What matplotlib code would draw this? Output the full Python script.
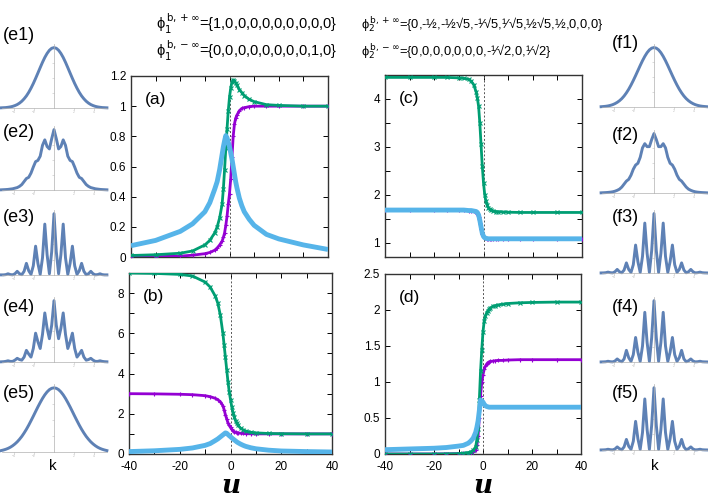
import numpy as np
import matplotlib
matplotlib.use("Agg")
import matplotlib.pyplot as plt  # noqa: E402
from matplotlib.ticker import MultipleLocator, FuncFormatter  # noqa: E402

W, H = 708, 501
PURPLE, GREEN, BLUE, MMA = "#9400d3", "#009e73", "#56b4e9", "#5e81b5"

plt.rcParams.update({
    "font.family": ["Liberation Sans", "DejaVu Sans"], "font.size": 8.5,
    "mathtext.fontset": "dejavusans", "axes.linewidth": 1.0,
    "axes.edgecolor": "#333333", "xtick.direction": "in", "ytick.direction": "in",
})

# ---- main panels: u samples and curve values ----
u = [-40, -30, -20, -15, -10, -8, -6, -5, -4, -3, -2.5, -2, -1.5, -1, -0.5, 0,
     0.5, 1, 1.5, 2, 2.5, 3, 4, 5, 6, 8, 10, 15, 20, 30, 40]

a_purple = [0.0, 0.002, 0.006, 0.012, 0.022, 0.03, 0.045, 0.06, 0.08, 0.105, 0.13, 0.16,
            0.21, 0.27, 0.35, 0.42, 0.52, 0.66, 0.8, 0.88, 0.92, 0.94, 0.97, 0.985, 0.99,
            0.997, 1.0, 1.0, 1.0, 1.0, 1.0]
a_green = [0.01, 0.015, 0.025, 0.04, 0.08, 0.11, 0.16, 0.2, 0.26, 0.35, 0.45, 0.58, 0.72,
           0.85, 0.97, 1.06, 1.12, 1.16, 1.175, 1.17, 1.155, 1.14, 1.11, 1.09, 1.07, 1.045,
           1.03, 1.01, 1.005, 1.0, 1.0]
a_blue = [0.075, 0.11, 0.17, 0.22, 0.30, 0.36, 0.45, 0.5, 0.58, 0.68, 0.73, 0.77, 0.805,
          0.79, 0.76, 0.73, 0.69, 0.65, 0.6, 0.55, 0.5, 0.46, 0.39, 0.34, 0.3, 0.25, 0.21,
          0.15, 0.12, 0.08, 0.05]

b_purple = [3.0, 2.99, 2.97, 2.95, 2.9, 2.85, 2.77, 2.7, 2.6, 2.4, 2.2, 1.95, 1.75, 1.55,
            1.42, 1.32, 1.22, 1.15, 1.11, 1.08, 1.06, 1.05, 1.03, 1.02, 1.01, 1.005, 1.0,
            1.0, 1.0, 1.0, 1.0]
b_green = [9.0, 8.98, 8.93, 8.85, 8.55, 8.3, 7.85, 7.5, 6.9, 6.0, 5.4, 4.8, 4.2, 3.6, 3.1,
           2.7, 2.35, 2.05, 1.83, 1.65, 1.52, 1.42, 1.28, 1.2, 1.14, 1.08, 1.05, 1.02, 1.01,
           1.0, 1.0]
b_blue = [0.12, 0.16, 0.23, 0.3, 0.43, 0.52, 0.67, 0.75, 0.85, 0.95, 1.0, 1.05, 1.03, 0.97,
          0.91, 0.86, 0.8, 0.75, 0.7, 0.65, 0.6, 0.56, 0.49, 0.43, 0.38, 0.31, 0.26, 0.19,
          0.15, 0.12, 0.1]

c_purple = [1.68, 1.68, 1.68, 1.68, 1.68, 1.68, 1.67, 1.67, 1.66, 1.64, 1.6, 1.53, 1.42,
            1.28, 1.17, 1.12, 1.1, 1.09, 1.085, 1.08, 1.08, 1.08, 1.08, 1.08, 1.08, 1.08,
            1.08, 1.08, 1.08, 1.08, 1.08]
c_green = [4.45, 4.45, 4.45, 4.45, 4.44, 4.43, 4.41, 4.37, 4.3, 4.15, 4.02, 3.85, 3.5, 3.05,
           2.6, 2.25, 2.0, 1.86, 1.78, 1.73, 1.7, 1.68, 1.66, 1.65, 1.645, 1.64, 1.635,
           1.63, 1.63, 1.63, 1.63]
c_blue = [1.68, 1.68, 1.68, 1.68, 1.68, 1.68, 1.67, 1.67, 1.66, 1.65, 1.63, 1.58, 1.47,
          1.33, 1.2, 1.13, 1.1, 1.09, 1.085, 1.08, 1.08, 1.08, 1.08, 1.08, 1.08, 1.08, 1.08,
          1.08, 1.08, 1.08, 1.08]

d_purple = [0.0, 0.0, 0.0, 0.002, 0.005, 0.008, 0.012, 0.02, 0.03, 0.05, 0.12, 0.25, 0.5,
            0.81, 1.0, 1.1, 1.18, 1.22, 1.25, 1.27, 1.28, 1.285, 1.29, 1.295, 1.3, 1.3,
            1.305, 1.31, 1.31, 1.31, 1.31]
d_green = [0.0, 0.0, 0.0, 0.002, 0.005, 0.01, 0.02, 0.03, 0.05, 0.1, 0.2, 0.35, 0.75, 1.15,
           1.45, 1.7, 1.85, 1.92, 1.96, 1.99, 2.01, 2.03, 2.05, 2.06, 2.07, 2.08, 2.09, 2.1,
           2.105, 2.11, 2.11]
d_blue = [0.06, 0.07, 0.08, 0.09, 0.11, 0.12, 0.15, 0.18, 0.22, 0.3, 0.37, 0.46, 0.6, 0.75,
          0.74, 0.72, 0.69, 0.67, 0.66, 0.655, 0.65, 0.65, 0.65, 0.65, 0.65, 0.65, 0.65,
          0.65, 0.65, 0.65, 0.65]

# ---- side panels: |psi(k)|^2 samples on k = 0, 0.23, 0.46, ... (mirrored to k < 0) ----
k_step = 0.23
e1 = [1.0, 0.989, 0.956, 0.904, 0.837, 0.757, 0.669, 0.579, 0.49, 0.405, 0.328, 0.259,
      0.2, 0.152, 0.112, 0.081, 0.057, 0.04, 0.027, 0.018, 0.012, 0.007, 0.005, 0.003]
e2 = [1.0, 0.85, 0.68, 0.72, 0.83, 0.74, 0.56, 0.49, 0.47, 0.38, 0.28, 0.21, 0.19, 0.14,
      0.09, 0.06, 0.04, 0.03, 0.02, 0.015, 0.01, 0.007, 0.005, 0.003]
e3 = [1.0, 0.38, 0.02, 0.33, 0.83, 0.28, 0.01, 0.19, 0.47, 0.15, 0.01, 0.07, 0.19, 0.06,
      0.005, 0.02, 0.06, 0.02, 0.003, 0.007, 0.02, 0.006, 0.002, 0.002]
e4 = [1.0, 0.6, 0.38, 0.55, 0.8, 0.45, 0.22, 0.33, 0.47, 0.22, 0.08, 0.13, 0.19, 0.08, 0.03,
      0.04, 0.06, 0.03, 0.01, 0.01, 0.02, 0.01, 0.005, 0.003]
e5 = [1.0, 0.993, 0.972, 0.937, 0.891, 0.835, 0.771, 0.703, 0.631, 0.558, 0.487, 0.418,
      0.354, 0.296, 0.243, 0.198, 0.158, 0.125, 0.097, 0.074, 0.056, 0.042, 0.031, 0.022]
f1 = [1.0, 0.99, 0.961, 0.914, 0.852, 0.779, 0.698, 0.613, 0.528, 0.446, 0.369, 0.299,
      0.238, 0.185, 0.141, 0.106, 0.078, 0.056, 0.039, 0.027, 0.018, 0.012, 0.008, 0.005]
f2 = [1.0, 0.9, 0.78, 0.78, 0.83, 0.76, 0.6, 0.5, 0.47, 0.4, 0.3, 0.23, 0.2, 0.15, 0.1,
      0.065, 0.045, 0.03, 0.02, 0.014, 0.01, 0.007, 0.005, 0.003]
f3 = [1.0, 0.38, 0.01, 0.33, 0.84, 0.28, 0.01, 0.19, 0.47, 0.14, 0.01, 0.06, 0.17, 0.05,
      0.004, 0.02, 0.06, 0.02, 0.002, 0.006, 0.015, 0.005, 0.002, 0.001]
f4 = [1.0, 0.4, 0.01, 0.32, 0.81, 0.26, 0.01, 0.16, 0.4, 0.12, 0.01, 0.07, 0.19, 0.05,
      0.004, 0.02, 0.05, 0.015, 0.002, 0.005, 0.012, 0.004, 0.002, 0.001]
f5 = [1.0, 0.4, 0.01, 0.33, 0.82, 0.28, 0.01, 0.18, 0.46, 0.14, 0.01, 0.06, 0.17, 0.05,
      0.004, 0.02, 0.05, 0.015, 0.002, 0.005, 0.012, 0.004, 0.002, 0.001]

title_left = [r"ϕ$_1^{\,\mathrm{b,+\infty}}$={1,0,0,0,0,0,0,0,0,0}",
              r"ϕ$_1^{\,\mathrm{b,-\infty}}$={0,0,0,0,0,0,0,0,1,0}"]
title_right = [r"ϕ$_2^{\,\mathrm{b,+\infty}}$={0,-½,-½√5,-¹⁄√5,¹⁄√5,½√5,½,0,0,0}",
               r"ϕ$_2^{\,\mathrm{b,-\infty}}$={0,0,0,0,0,0,0,-¹⁄√2,0,¹⁄√2}"]


def px_axes(fig, x0, y0, x1, y1):
    return fig.add_axes([x0 / W, 1 - y1 / H, (x1 - x0) / W, (y1 - y0) / H])


def main_panel(fig, box, purple, green, blue, ylim, ystep, ylabel_step, label, xlabels):
    ax = px_axes(fig, *box)
    ax.plot(u, purple, color=PURPLE, lw=2.0, marker="+", ms=3.5, mew=0.8, zorder=3)
    ax.plot(u, green, color=GREEN, lw=2.0, marker="x", ms=3.0, mew=0.8, zorder=4)
    ax.plot(u, blue, color=BLUE, lw=3.5, zorder=5, solid_capstyle="butt")
    ax.axvline(0, color="#555555", lw=0.7, ls=(0, (2, 2)), zorder=2)
    ax.set_xlim(-40, 40)
    ax.set_ylim(*ylim)
    ax.xaxis.set_major_locator(MultipleLocator(10))
    ax.yaxis.set_major_locator(MultipleLocator(ystep))
    ax.tick_params(top=True, right=True, length=3.5, width=0.7, labelsize=8.5)
    ax.tick_params(axis="x", pad=5)
    if xlabels:
        ax.xaxis.set_major_formatter(FuncFormatter(
            lambda v, p: f"{v:.0f}" if abs(v) % 20 < 1e-6 else ""))
        ax.set_xlabel("u", fontsize=19, fontweight="bold", fontstyle="italic",
                      family="DejaVu Serif", labelpad=0)
    else:
        ax.set_xticklabels([])
    ax.yaxis.set_major_formatter(FuncFormatter(
        lambda v, p: (f"{v:g}" if abs(v / ylabel_step - round(v / ylabel_step)) < 1e-6
                      else "")))
    ax.text(0.07, 0.87, label, transform=ax.transAxes, fontsize=12.5, va="center")
    return ax


def side_panel(fig, x0, x1, y0, y1, half, label, lx, ly):
    ax = px_axes(fig, x0, y0, x1, y1)
    n = len(half)
    k = np.arange(-(n - 1), n) * k_step
    p = np.r_[half[:0:-1], half]
    ax.plot(k, p, color=MMA, lw=2.1, clip_on=False)
    ax.set_xlim(-5.2, 5.3)
    ax.set_ylim(0, 1.06)
    for s in ("top", "right"):
        ax.spines[s].set_visible(False)
    ax.spines["left"].set_position(("data", 0))
    for s in ("left", "bottom"):
        ax.spines[s].set_color("#b0b0b0")
        ax.spines[s].set_linewidth(0.5)
    ax.set_xticks([-4, -2, 2, 4])
    ax.set_yticks([0.25, 0.5, 0.75, 1.0])
    ax.tick_params(direction="out", length=1.2, width=0.4, colors="#c0c0c0",
                   labelsize=2.5, pad=0.5)
    ax.set_yticklabels(["", "", "", ""])
    ax.patch.set_alpha(0)
    fig.text(lx / W, 1 - ly / H, label, fontsize=13, va="center", ha="left")
    return ax


fig = plt.figure(figsize=(W / 100, H / 100), dpi=100)

main_panel(fig, (131, 76, 328, 257), a_purple, a_green, a_blue, (0, 1.2), 0.2, 0.2, "(a)", False)
main_panel(fig, (129, 273, 332, 454), b_purple, b_green, b_blue, (0, 9), 1, 2, "(b)", True)
main_panel(fig, (385, 75, 582, 257), c_purple, c_green, c_blue, (0.7, 4.5), 0.5, 1, "(c)", False)
main_panel(fig, (385, 274, 581, 454), d_purple, d_green, d_blue, (0, 2.5), 0.5, 0.5, "(d)", True)

e_rows = [(44, 108, e1, 35), (126, 190, e2, 132), (210, 275, e3, 218),
          (297, 362, e4, 308), (384, 452, e5, 393)]
f_rows = [(44, 107, f1, 43), (130, 193, f2, 135), (210, 273, f3, 217),
          (297, 362, f4, 307), (384, 450, f5, 393)]
for i, (y0, y1, vals, ly) in enumerate(e_rows):
    side_panel(fig, 2, 107, y0, y1, vals, f"(e{i + 1})", 3, ly)
for i, (y0, y1, vals, ly) in enumerate(f_rows):
    side_panel(fig, 602, 707, y0, y1, vals, f"(f{i + 1})", 612, ly)
fig.text(53 / W, 1 - 466 / H, "k", fontsize=11, ha="center", va="center")
fig.text(655 / W, 1 - 466 / H, "k", fontsize=11, ha="center", va="center")

for j, t in enumerate(title_left):
    fig.text(156 / W, 1 - (24 + 27 * j) / H, t, fontsize=10.5, va="center")
for j, t in enumerate(title_right):
    fig.text(361 / W, 1 - (24 + 27 * j) / H, t, fontsize=9.3, va="center")

fig.savefig("out.png", dpi=100, facecolor="white")
